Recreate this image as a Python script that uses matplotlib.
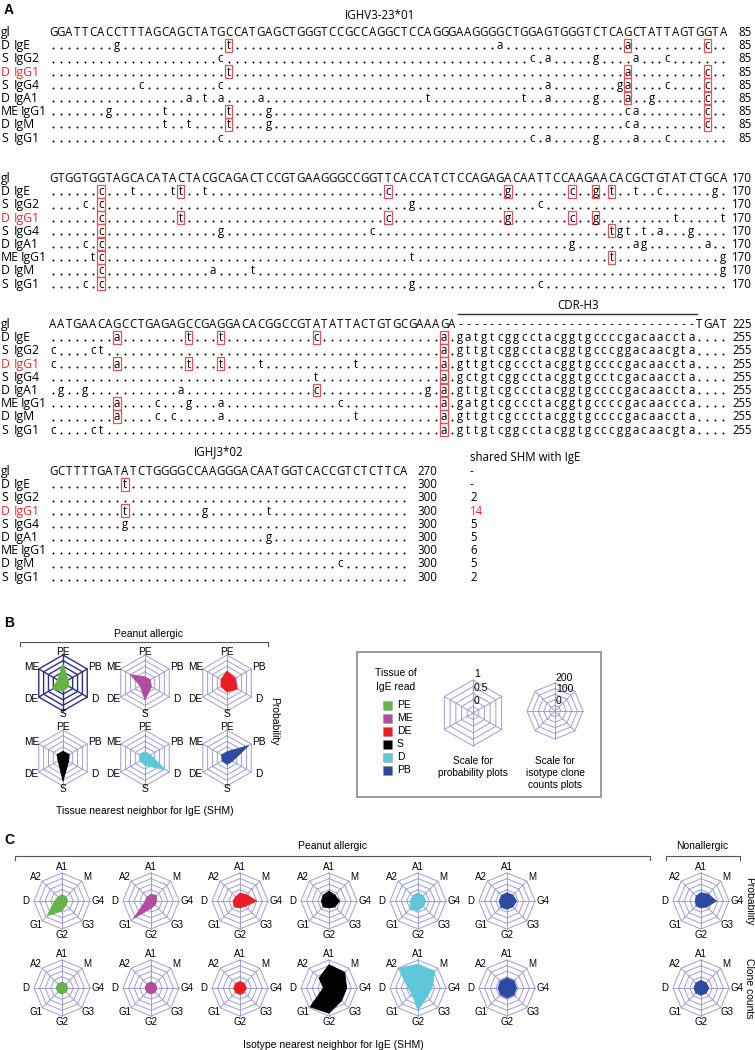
import numpy as np
import matplotlib
matplotlib.use("Agg")
import matplotlib.pyplot as plt
from matplotlib.patches import Rectangle

W, H = 755, 1050
SEQ_FONT = "Open Sans"
FIG_FONT = "Liberation Sans"

# ---------------- Panel A data ----------------
title_v = "IGHV3-23*01"
title_j = "IGHJ3*02"
cdr_label = "CDR-H3"
row_tissue = ["D", "S", "D", "S", "D", "ME", "D", "S"]
row_isotype = ["IgE", "IgG2", "IgG1", "IgG4", "IgA1", "IgG1", "IgM", "IgG1"]
highlight_row = 2  # D IgG1 shown in red

germline = [
    "GGATTCACCTTTAGCAGCTATGCCATGAGCTGGGTCCGCCAGGCTCCAGGGAAGGGGCTGGAGTGGGTCTCAGCTATTAGTGGTA",
    "GTGGTGGTAGCACATACTACGCAGACTCCGTGAAGGGCCGGTTCACCATCTCCAGAGACAATTCCAAGAACACGCTGTATCTGCA",
    "AATGAACAGCCTGAGAGCCGAGGACACGGCCGTATATTACTGTGCGAAAGA------------------------------TGAT",
    "GCTTTTGATATCTGGGGCCAAGGGACAATGGTCACCGTCTCTTCA",
]
germline_end = [85, 170, 225, 270]
read_end = [85, 170, 255, 300]

# "position+base" (0-based); an upper-case base marks SHM shared with IgE (boxed)
mut_block1 = [
    "8g 22T 56a 72A 82C",
    "21c 60c 62a 68g 73a 77c",
    "22T 72A 82C",
    "11c 21c 62a 71g 72A 77c 82C",
    "17a 19t 21a 26a 47t 59t 62a 68g 72A 75g 82C",
    "7g 14t 22T 27g 72c 73a 82C",
    "14t 17t 22T 27g 72c 73a 82C",
    "21c 60c 62a 68g 73a 77c",
]
mut_block2 = [
    "6C 10t 15t 16T 19t 42C 57G 65C 68G 70T 73t 76c 83g",
    "4c 6C 45g 61c",
    "6C 16T 42C 57G 65C 68G 78t 84t",
    "6C 21g 40c 70T 71g 72t 74t 76a 80g",
    "4c 6C 65g 73a 74g 82a",
    "5t 6C 45t 70T 84g",
    "6C 20a 25t 84g",
    "4c 6C 45g 61c",
]
mut_block3 = [
    "8A 17T 21T 33C 49A",
    "0c 5c 6t 49A",
    "0c 8A 17T 21T 26t 38t 49A",
    "33t 49A",
    "1g 4g 16a 33C 47g 49A",
    "8A 13c 17g 21a 36c 49A",
    "8A 13c 15c 21a 38t 49A",
    "0c 5c 6t 49A",
]
mut_block4 = [
    "9T",
    "",
    "9T 19g 27t",
    "9g",
    "27g",
    "",
    "36c",
    "",
]
mutations = [mut_block1, mut_block2, mut_block3, mut_block4]
junctions = [
    "gatgtcggcctacggtgccccgacaaccta",
    "gttgtcggcctacggtgcccggacaacgta",
    "gttgtcgccctacggtgccccgacaaccta",
    "gctgtcggcctacggtgcctcgacaaccta",
    "gttgtcgccctacggtgccccgacaaccta",
    "gatgtcgccctacggtgccccgacaaccca",
    "gttgtcgccctacggtgccccgacaaccta",
    "gttgtcggcctacggtgcccggacaacgta",
]
shared_header = "shared SHM with IgE"
shared_shm = ["-", "-", "2", "14", "5", "5", "6", "5", "2"]

# ---------------- Panel B data ----------------
tissue_axes = ["PE", "PB", "D", "S", "DE", "ME"]          # clockwise from top
tissue_read = ["PE", "ME", "DE", "S", "D", "PB"]
tissue_colors = {"PE": "#66b447", "ME": "#b24c9f", "DE": "#ec1c24",
                 "S": "#000000", "D": "#5ec8da", "PB": "#2c4a9f"}
tissue_prob = [
    [0.62, 0.02, 0.05, 0.12, 0.30, 0.03],
    [0.02, 0.03, 0.08, 0.50, 0.00, 0.50],
    [0.28, 0.17, 0.28, 0.15, 0.06, 0.06],
    [0.05, 0.07, 0.04, 0.78, 0.00, 0.06],
    [0.04, 0.03, 0.80, 0.08, 0.00, 0.05],
    [0.03, 0.87, 0.03, 0.04, 0.00, 0.03],
]
prob_ticks = ["1", "0.5", "0"]
prob_tick_vals = [1.0, 0.5, 0.0]

# ---------------- Panel C data ----------------
iso_axes = ["A1", "M", "G4", "G3", "G2", "G1", "D", "A2"]  # clockwise from top
iso_read = ["PE", "ME", "DE", "S", "D", "PB", "PB"]
iso_prob = [
    [0.03, 0.01, 0.00, 0.00, 0.20, 0.68, 0.08, 0.00],
    [0.05, 0.10, 0.00, 0.00, 0.08, 0.85, 0.00, 0.00],
    [0.10, 0.15, 0.50, 0.08, 0.06, 0.12, 0.06, 0.02],
    [0.19, 0.12, 0.22, 0.12, 0.06, 0.12, 0.09, 0.12],
    [0.12, 0.08, 0.10, 0.10, 0.18, 0.25, 0.10, 0.07],
    [0.12, 0.12, 0.18, 0.12, 0.12, 0.14, 0.10, 0.10],
    [0.12, 0.19, 0.44, 0.12, 0.06, 0.06, 0.00, 0.06],
]
iso_counts = [
    [3, 2, 3, 2, 4, 3, 2, 2],
    [4, 3, 3, 2, 4, 3, 3, 3],
    [8, 6, 7, 5, 8, 6, 6, 7],
    [158, 148, 108, 110, 175, 188, 0, 75],
    [162, 162, 75, 62, 150, 25, 38, 200],
    [40, 38, 35, 38, 40, 35, 30, 35],
    [18, 15, 20, 15, 15, 15, 12, 15],
]
count_ticks = ["200", "100", "0"]
count_tick_vals = [200, 100, 0]

# ---------------- figure ----------------
fig = plt.figure(figsize=(W / 100, H / 100), dpi=100)
ax = fig.add_axes([0, 0, 1, 1])
ax.set_xlim(0, W)
ax.set_ylim(H, 0)
ax.axis("off")

RED = "#ee2a2f"
BOX = "#e8505a"
FS = 8.3
LFS = 8.8
X0, DX = 53.0, 7.98
BLOCK_Y = [32, 178, 324, 471]
ROW = 13.2
NUM_X = [752, 752, 752, 437]
JUNC0 = 51


def stext(x, y, s, **kw):
    kw.setdefault("fontsize", FS)
    kw.setdefault("family", SEQ_FONT)
    kw.setdefault("va", "baseline")
    ax.text(x, y, s, **kw)


def parse(spec):
    return [(int(t[:-1]), t[-1]) for t in spec.split()]


ax.text(4, 10, "A", fontsize=10, fontweight="bold", family=FIG_FONT, va="center")
stext(380, 19, title_v, ha="center")
stext(219, 455, title_j, ha="center")
stext(578, 309, cdr_label, ha="center")
ax.plot([458, 697], [313.5, 313.5], color="#333333", lw=1.0)
stext(470, 461, shared_header)

for b, gl in enumerate(germline):
    n = len(gl)
    xs = X0 + DX * np.arange(n)
    base = BLOCK_Y[b] + 4
    stext(1, base, "gl", fontsize=LFS)
    for x, ch in zip(xs, gl):
        stext(x, base, ch, ha="center")
    stext(NUM_X[b], base, str(germline_end[b]), ha="right")
    if b == 3:
        stext(470, base, shared_shm[0])
    for r in range(8):
        yb = BLOCK_Y[b] + (r + 1) * ROW + 4
        col = RED if r == highlight_row else "black"
        stext(1, yb, row_tissue[r], color=col, fontsize=LFS)
        stext(14 if len(row_tissue[r]) == 1 else 20.5, yb, row_isotype[r], color=col,
              fontsize=LFS)
        row = ["."] * n
        if b == 2:
            row[JUNC0:JUNC0 + len(junctions[r])] = list(junctions[r])
        boxed = []
        for p, ch in parse(mutations[b][r]):
            row[p] = ch.lower()
            if ch.isupper():
                boxed.append(p)
        dots = np.array([i for i, c in enumerate(row) if c == "."], dtype=int)
        if len(dots):
            ax.scatter(xs[dots], np.full(len(dots), yb - 0.9), s=2.0, c="black",
                       linewidths=0, marker="o")
        for i, c in enumerate(row):
            if c != ".":
                stext(xs[i], yb, c, ha="center")
        for p in boxed:
            ax.add_patch(Rectangle((xs[p] - 3.8, yb - 10.5), 7.6, 12.8, fill=False,
                                   ec=BOX, lw=0.9))
        stext(NUM_X[b], yb, str(read_end[b]), ha="right")
        if b == 3:
            stext(470, yb, shared_shm[r + 1], color=RED if r == highlight_row else "black")

# ---------------- radar helper ----------------
RINGS = [0.2, 0.4, 0.6, 0.8, 1.0]
GRID = "#9e9ed2"


def radar(cx, cy, R, labels, vals, vmax, color, gcolor=GRID, glw=0.7, fs=7.3,
          ticks=None, tick_vals=None, lab_rx=1.32, lab_ry=1.2):
    L = R * 1.8
    rax = fig.add_axes([(cx - L) / W, 1 - (cy + L) / H, 2 * L / W, 2 * L / H])
    rax.set_xlim(-1.8, 1.8)
    rax.set_ylim(-1.8, 1.8)
    rax.axis("off")
    n = len(labels)
    ang = np.pi / 2 - 2 * np.pi * np.arange(n) / n
    ca, sa = np.cos(ang), np.sin(ang)
    for f in RINGS:
        rax.plot(np.append(f * ca, f * ca[0]), np.append(f * sa, f * sa[0]),
                 color=gcolor, lw=glw, zorder=1)
    for c_, s_ in zip(ca, sa):
        rax.plot([0, c_], [0, s_], color=gcolor, lw=glw, zorder=1)
    if vals is not None:
        f = 0.2 + 0.8 * np.asarray(vals, dtype=float) / vmax
        rax.fill(f * ca, f * sa, facecolor=color, edgecolor=color, lw=0.6, zorder=3)
    if lab_rx:
        for c_, s_, lab in zip(ca, sa, labels):
            rax.text(lab_rx * c_, lab_ry * s_, lab, ha="center", va="center",
                     fontsize=fs, family=FIG_FONT)
    if ticks is not None:
        for t, v in zip(ticks, tick_vals):
            rax.text(0.03, 0.2 + 0.8 * v / tick_vals[0] + 0.17, t, ha="left",
                     va="center", fontsize=7.5, family=FIG_FONT, zorder=4)
    return rax


# ---------------- Panel B ----------------
ax.text(4, 623, "B", fontsize=10, fontweight="bold", family=FIG_FONT, va="center")
ax.text(148, 634, "Peanut allergic", fontsize=7.5, family=FIG_FONT, ha="center", va="center")
ax.plot([20, 20, 268, 268], [646, 642, 642, 646], color="#555555", lw=0.8)
B_X = [63, 145, 227]
B_Y = [683, 758]
for i, t in enumerate(tissue_read):
    radar(B_X[i % 3], B_Y[i // 3], 28, tissue_axes, tissue_prob[i], 1.0,
          tissue_colors[t], gcolor="#2e2e86" if i == 0 else GRID,
          glw=1.0 if i == 0 else 0.7, lab_rx=1.3, lab_ry=1.12)
ax.text(274, 721, "Probability", rotation=270, fontsize=7.5, family=FIG_FONT,
        ha="center", va="center")
ax.text(145, 811, "Tissue nearest neighbor for IgE (SHM)", fontsize=7.5,
        family=FIG_FONT, ha="center", va="center")

# legend / scale box
ax.add_patch(Rectangle((357, 652), 244, 145, fill=False, ec="#8a8a8a", lw=1.2))
ax.text(396, 673, "Tissue of", fontsize=7.5, family=FIG_FONT, ha="center", va="center")
ax.text(396, 687, "IgE read", fontsize=7.5, family=FIG_FONT, ha="center", va="center")
for k, t in enumerate(tissue_read):
    yy = 705 + 13 * k
    ax.add_patch(Rectangle((383, yy - 4.5), 9, 9, facecolor=tissue_colors[t],
                           edgecolor="#777777", lw=0.5, ls=":"))
    ax.text(397, yy, t, fontsize=7.5, family=FIG_FONT, va="center")
radar(473, 713, 33, tissue_axes, None, 1.0, None, lab_rx=None,
      ticks=prob_ticks, tick_vals=prob_tick_vals)
radar(555, 711, 28, iso_axes, None, 200, None, lab_rx=None,
      ticks=count_ticks, tick_vals=count_tick_vals)
for k, line in enumerate(["Scale for", "probability plots"]):
    ax.text(473, 761 + 12 * k, line, fontsize=7.3, family=FIG_FONT, ha="center", va="center")
for k, line in enumerate(["Scale for", "isotype clone", "counts plots"]):
    ax.text(555, 761 + 12 * k, line, fontsize=7.3, family=FIG_FONT, ha="center", va="center")

# ---------------- Panel C ----------------
ax.text(4, 840, "C", fontsize=10, fontweight="bold", family=FIG_FONT, va="center")
ax.text(333, 846, "Peanut allergic", fontsize=7.5, family=FIG_FONT, ha="center", va="center")
ax.plot([15, 15, 650, 650], [860, 856, 856, 860], color="#555555", lw=0.8)
ax.text(702, 846, "Nonallergic", fontsize=7.5, family=FIG_FONT, ha="center", va="center")
ax.plot([666, 666, 740, 740], [860, 856, 856, 860], color="#555555", lw=0.8)
C_X = [62, 151, 240, 329, 418, 507, 701]
C_Y = [901, 988]
for i, t in enumerate(iso_read):
    radar(C_X[i], C_Y[0], 28, iso_axes, iso_prob[i], 1.0, tissue_colors[t], fs=7.0,
          lab_rx=1.3, lab_ry=1.22)
    radar(C_X[i], C_Y[1], 28, iso_axes, iso_counts[i], 200, tissue_colors[t], fs=7.0,
          lab_rx=1.3, lab_ry=1.22)
ax.text(749, C_Y[0], "Probability", rotation=270, fontsize=7.5, family=FIG_FONT,
        ha="center", va="center")
ax.text(749, C_Y[1], "Clone counts", rotation=270, fontsize=7.5, family=FIG_FONT,
        ha="center", va="center")
ax.text(243, 1045, "Isotype nearest neighbor for IgE (SHM)", fontsize=7.5,
        family=FIG_FONT, ha="left", va="center")

fig.savefig("out.png", dpi=100)
